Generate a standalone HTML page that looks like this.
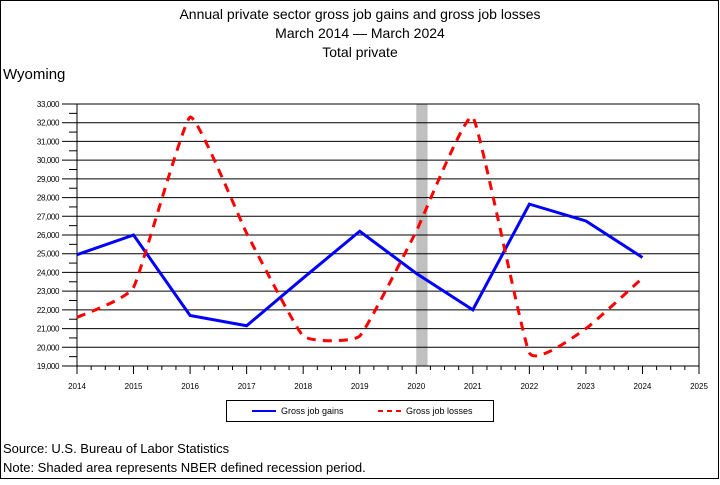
<!DOCTYPE html>
<html><head><meta charset="utf-8"><style>
body{margin:0;background:#fff}
svg text{font-family:"Liberation Sans",sans-serif}
</style></head><body>
<svg id="c" width="720" height="480" xmlns="http://www.w3.org/2000/svg">
<rect x="0.5" y="0.5" width="718" height="478" fill="#fff" stroke="#000"/>
<text x="360" y="19" font-size="14" text-anchor="middle">Annual private sector gross job gains and gross job losses</text>
<text x="360" y="38" font-size="14" text-anchor="middle">March 2014 — March 2024</text>
<text x="360" y="57" font-size="14" text-anchor="middle">Total private</text>
<text x="3" y="79" font-size="15">Wyoming</text>
<g id="grid"></g><g id="series"></g>
<g>
<rect x="226.5" y="400.5" width="267" height="21" fill="#fff" stroke="#000"/>
<line x1="252" y1="411" x2="276" y2="411" stroke="#00f" stroke-width="2"/>
<text x="281" y="414" font-size="9">Gross job gains</text>
<line x1="378" y1="411" x2="402" y2="411" stroke="#f00" stroke-width="2" stroke-dasharray="5,4"/>
<text x="406" y="414" font-size="9">Gross job losses</text>
</g>
<text x="3" y="453" font-size="13">Source: U.S. Bureau of Labor Statistics</text>
<text x="3" y="472" font-size="13">Note: Shaded area represents NBER defined recession period.</text>
</svg>
<script>
const years=[2014,2015,2016,2017,2018,2019,2020,2021,2022,2023,2024];
const gains=[24950,26000,21700,21150,23700,26200,23950,22000,27650,26750,24800];
const losses=[21600,23200,32300,26100,20600,20600,26200,32300,19700,21000,23700];
const yTicks=[19000,20000,21000,22000,23000,24000,25000,26000,27000,28000,29000,30000,31000,32000,33000];
const xTicks=[2014,2015,2016,2017,2018,2019,2020,2021,2022,2023,2024,2025];
const recession=[2020.0,2020.2];
const X=v=>77+(v-2014)*(699-77)/11;
const Y=v=>366-(v-19000)*(366-104)/14000;
const NS="http://www.w3.org/2000/svg";
function mk(t,a,p){const e=document.createElementNS(NS,t);for(const k in a)e.setAttribute(k,a[k]);p.appendChild(e);return e;}
const g=document.getElementById('grid'),s=document.getElementById('series');
const rr=mk('rect',{x:X(recession[0]),y:104,width:X(recession[1])-X(recession[0]),height:262,fill:'#c0c0c0'},g);


yTicks.forEach((v,i)=>{
 const l=mk('line',{x1:62,x2:699,y1:Y(v),y2:Y(v),stroke:'#000','stroke-width':1},g);
 
 
 if(i<yTicks.length-1){const m=mk('line',{x1:69,x2:77,y1:Y(v+500),y2:Y(v+500),stroke:'#000'},g);
 
 }
 const t=mk('text',{x:59,y:Y(v)+3,'font-size':8,'text-anchor':'end','letter-spacing':'-0.4'},g);
 t.textContent=v.toLocaleString('en-US');
 
 
});
const ax=mk('line',{x1:77,x2:77,y1:104,y2:374,stroke:'#000'},g);


const rx=mk('line',{x1:699,x2:699,y1:104,y2:374,stroke:'#000'},g);


xTicks.forEach((v,i)=>{
 const l=mk('line',{x1:X(v),x2:X(v),y1:366,y2:374,stroke:'#000'},g);
 
 
 if(i<xTicks.length-1)[0.25,0.5,0.75].forEach(f=>{const m=mk('line',{x1:X(v+f),x2:X(v+f),y1:366,y2:370,stroke:'#000'},g);
 
 });
 const t=mk('text',{x:X(v),y:389,'font-size':8,'text-anchor':'middle'},g);
 t.textContent=v;
 
 
});
function spline(vals){
 const p=vals.map((v,i)=>[X(years[i]),Y(v)]);let d='M'+p[0];
 for(let i=0;i<p.length-1;i++){const a=p[i-1]||p[i],b=p[i],c=p[i+1],e=p[i+2]||c,k=0.06;
 d+=' C'+(b[0]+(c[0]-a[0])*k)+','+(b[1]+(c[1]-a[1])*k)+' '+(c[0]-(e[0]-b[0])*k)+','+(c[1]-(e[1]-b[1])*k)+' '+c;}
 return d;}
const gl=mk('path',{d:'M'+gains.map((v,i)=>X(years[i])+','+Y(v)).join(' L'),fill:'none',stroke:'#00f','stroke-width':3},s);


const ll=mk('path',{d:spline(losses),fill:'none',stroke:'#f00','stroke-width':3,'stroke-dasharray':'9,7'},s);


</script>
</body></html>
